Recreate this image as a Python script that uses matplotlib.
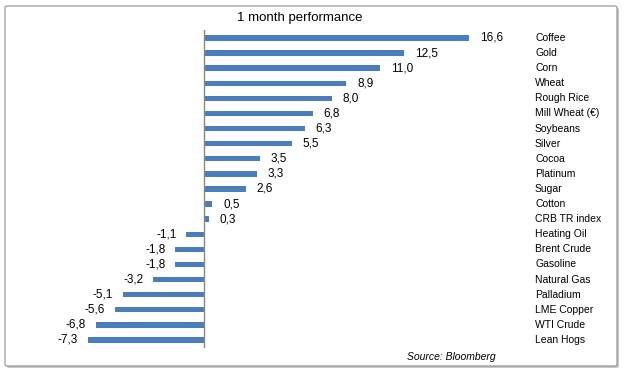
import matplotlib.pyplot as plt
from matplotlib.patches import FancyBboxPatch
from matplotlib.transforms import blended_transform_factory

names = ['Coffee', 'Gold', 'Corn', 'Wheat', 'Rough Rice', 'Mill Wheat (€)', 'Soybeans',
         'Silver', 'Cocoa', 'Platinum', 'Sugar', 'Cotton', 'CRB TR index', 'Heating Oil',
         'Brent Crude', 'Gasoline', 'Natural Gas', 'Palladium', 'LME Copper', 'WTI Crude',
         'Lean Hogs']
perf = [16.6, 12.5, 11.0, 8.9, 8.0, 6.8, 6.3, 5.5, 3.5, 3.3, 2.6, 0.5, 0.3,
        -1.1, -1.8, -1.8, -3.2, -5.1, -5.6, -6.8, -7.3]

W, H = 625, 375
plt.rcParams['font.family'] = ['Liberation Sans', 'DejaVu Sans']
fig = plt.figure(figsize=(6.25, 3.75), dpi=100)

# frame around the chart, with a soft shadow
shadow = FancyBboxPatch((7 / W, 1 - 368 / H), 612 / W, 360 / H,
                        boxstyle='round,pad=0,rounding_size=0.004',
                        transform=fig.transFigure, fc='#c8c8c8', ec='none', zorder=-2)
box = FancyBboxPatch((5 / W, 1 - 366 / H), 612 / W, 360 / H,
                     boxstyle='round,pad=0,rounding_size=0.004',
                     transform=fig.transFigure, fc='white', ec='#8c8c8c', lw=0.8, zorder=-1)
fig.patches.extend([shadow, box])

ax = fig.add_axes([60.4 / W, 1 - 347.5 / H, (523.2 - 60.4) / W, (347.5 - 30.45) / H])
ax.patch.set_alpha(0)
y = list(range(len(names)))
ax.barh(y, perf, height=0.36, color='#4a7ebb')
ax.set_xlim(-9, 20)
ax.set_ylim(len(names) - 0.5, -0.5)
ax.axvline(0, color='#868686', lw=1)
for s in ax.spines.values():
    s.set_visible(False)
ax.set_xticks([])
ax.set_yticks([])

for i, v in enumerate(perf):
    txt = f'{v:.1f}'.replace('.', ',')
    if v >= 0:
        ax.annotate(txt, (v, i), xytext=(8, 0), textcoords='offset points',
                    ha='left', va='center', fontsize=8.5)
    else:
        ax.annotate(txt, (v, i), xytext=(-7, 0), textcoords='offset points',
                    ha='right', va='center', fontsize=8.5)

# category labels on the right
tr = blended_transform_factory(fig.transFigure, ax.transData)
for i, n in enumerate(names):
    ax.text(535 / W, i, n, transform=tr, ha='left', va='center', fontsize=7.5)

fig.text(300 / W, 1 - 18 / H, '1 month performance', ha='center', va='center', fontsize=9.5)
fig.text(496 / W, 1 - 357 / H, 'Source: Bloomberg', ha='right', va='center',
         fontsize=7.5, style='italic')

fig.savefig('out.png', dpi=100)
